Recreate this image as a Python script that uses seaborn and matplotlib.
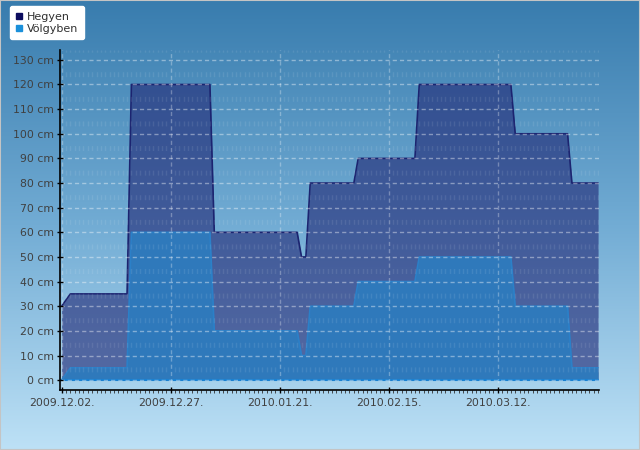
import numpy as np
import pandas as pd
import matplotlib
matplotlib.use("Agg")
import matplotlib.pyplot as plt
import matplotlib.dates as mdates
from matplotlib.colors import LinearSegmentedColormap
from matplotlib.lines import Line2D
from matplotlib.patches import Rectangle
import seaborn as sns

# --- DATA (snow depth, cm) ---
dates = ["2009-12-02", "2009-12-04", "2009-12-17", "2009-12-18", "2010-01-05",
         "2010-01-06", "2010-01-25", "2010-01-26", "2010-01-27", "2010-01-28",
         "2010-02-07", "2010-02-08", "2010-02-21", "2010-02-22", "2010-03-15",
         "2010-03-16", "2010-03-28", "2010-03-29", "2010-04-04"]
hegyen = [30, 35, 35, 120, 120, 60, 60, 50, 50, 80, 80, 90, 90, 120, 120, 100, 100, 80, 80]
volgyben = [0, 5, 5, 60, 60, 20, 20, 10, 10, 30, 30, 40, 40, 50, 50, 30, 30, 5, 5]
tick_dates = ["2009-12-02", "2009-12-27", "2010-01-21", "2010-02-15", "2010-03-12"]
y_ticks = list(range(0, 131, 10))
series_names = ["Hegyen", "Völgyben"]

df = pd.DataFrame({"date": pd.to_datetime(dates), "Hegyen": hegyen, "Völgyben": volgyben})
long_df = df.melt(id_vars="date", var_name="hely", value_name="cm")

sns.set_style("ticks")
plt.rcParams["font.family"] = ["DejaVu Sans"]

fig = plt.figure(figsize=(6.4, 4.5), dpi=100)

# background gradient
bg = fig.add_axes([0, 0, 1, 1], zorder=-10)
grad_cmap = LinearSegmentedColormap.from_list("bg", ["#387cae", "#72acd4", "#bde1f6"])
bg.imshow(np.linspace(0, 1, 256).reshape(-1, 1), aspect="auto", cmap=grad_cmap,
          extent=[0, 1, 0, 1])
bg.axis("off")
fig.patches.append(Rectangle((0, 0), 1, 1, transform=fig.transFigure, fill=False,
                             edgecolor="#c4c4c4", linewidth=1.5))

ax = fig.add_axes([60 / 640, 1 - 390 / 450, 539 / 640, 340 / 450])
ax.patch.set_alpha(0)

ax.fill_between(df["date"], 0, df["Hegyen"], color="#242c78", alpha=0.63, linewidth=0, zorder=1)
ax.fill_between(df["date"], 0, df["Völgyben"], color="#2f79bb", alpha=1, linewidth=0, zorder=1.1)
sns.lineplot(data=long_df, x="date", y="cm", hue="hely", palette=["#1c2470", "#2b80c8"],
             linewidth=1.2, legend=False, ax=ax, zorder=1.2)
ax.axhline(0, color="#1a80d0", linewidth=1.5, zorder=1.3)

start = pd.Timestamp(dates[0])
ax.set_xlim(start - pd.Timedelta(hours=9), start + pd.Timedelta(days=123, hours=5))
ax.set_ylim(-4, 134)
ax.set_xticks(pd.to_datetime(tick_dates))
ax.xaxis.set_major_formatter(mdates.DateFormatter("%Y.%m.%d."))
ax.xaxis.set_minor_locator(mdates.DayLocator())
ax.set_yticks(y_ticks)
ax.set_yticklabels([f"{v} cm" for v in y_ticks])
ax.set_xlabel("")
ax.set_ylabel("")

ax.set_axisbelow("line")
ax.grid(which="major", axis="y", color="white", alpha=0.4, linewidth=1, linestyle=(0, (3, 2.2)))
ax.grid(which="major", axis="x", color="white", alpha=0.3, linewidth=1, linestyle=(0, (3, 2.2)))
ax.grid(which="minor", axis="x", color="white", alpha=0.09, linewidth=1,
        linestyle=(4.68, (3.6, 14.11)))

for side in ["top", "right"]:
    ax.spines[side].set_visible(False)
for side in ["left", "bottom"]:
    ax.spines[side].set_color("black")
    ax.spines[side].set_linewidth(1.2)

ax.tick_params(axis="both", which="major", direction="inout", length=5, width=1,
               color="black", labelsize=7.8, labelcolor="#404040")
ax.tick_params(axis="x", which="minor", direction="out", length=2, width=0.6, color="#303030")
ax.tick_params(axis="y", pad=2)
ax.tick_params(axis="x", pad=3)

handles = [Line2D([], [], marker="s", linestyle="", markersize=5, color=c)
           for c in ["#0c0c5e", "#1a90da"]]
leg = fig.legend(handles, series_names, loc="upper left", bbox_to_anchor=(10 / 640, 1 - 6 / 450),
                 frameon=True, fancybox=True, fontsize=8, handlelength=0.6,
                 handletextpad=0.45, borderpad=0.5, labelspacing=0.2, borderaxespad=0)
leg.get_frame().set_facecolor("white")
leg.get_frame().set_edgecolor("white")
leg.get_frame().set_alpha(1)
for t in leg.get_texts():
    t.set_color("#303030")

fig.savefig("out.png", dpi=100)
